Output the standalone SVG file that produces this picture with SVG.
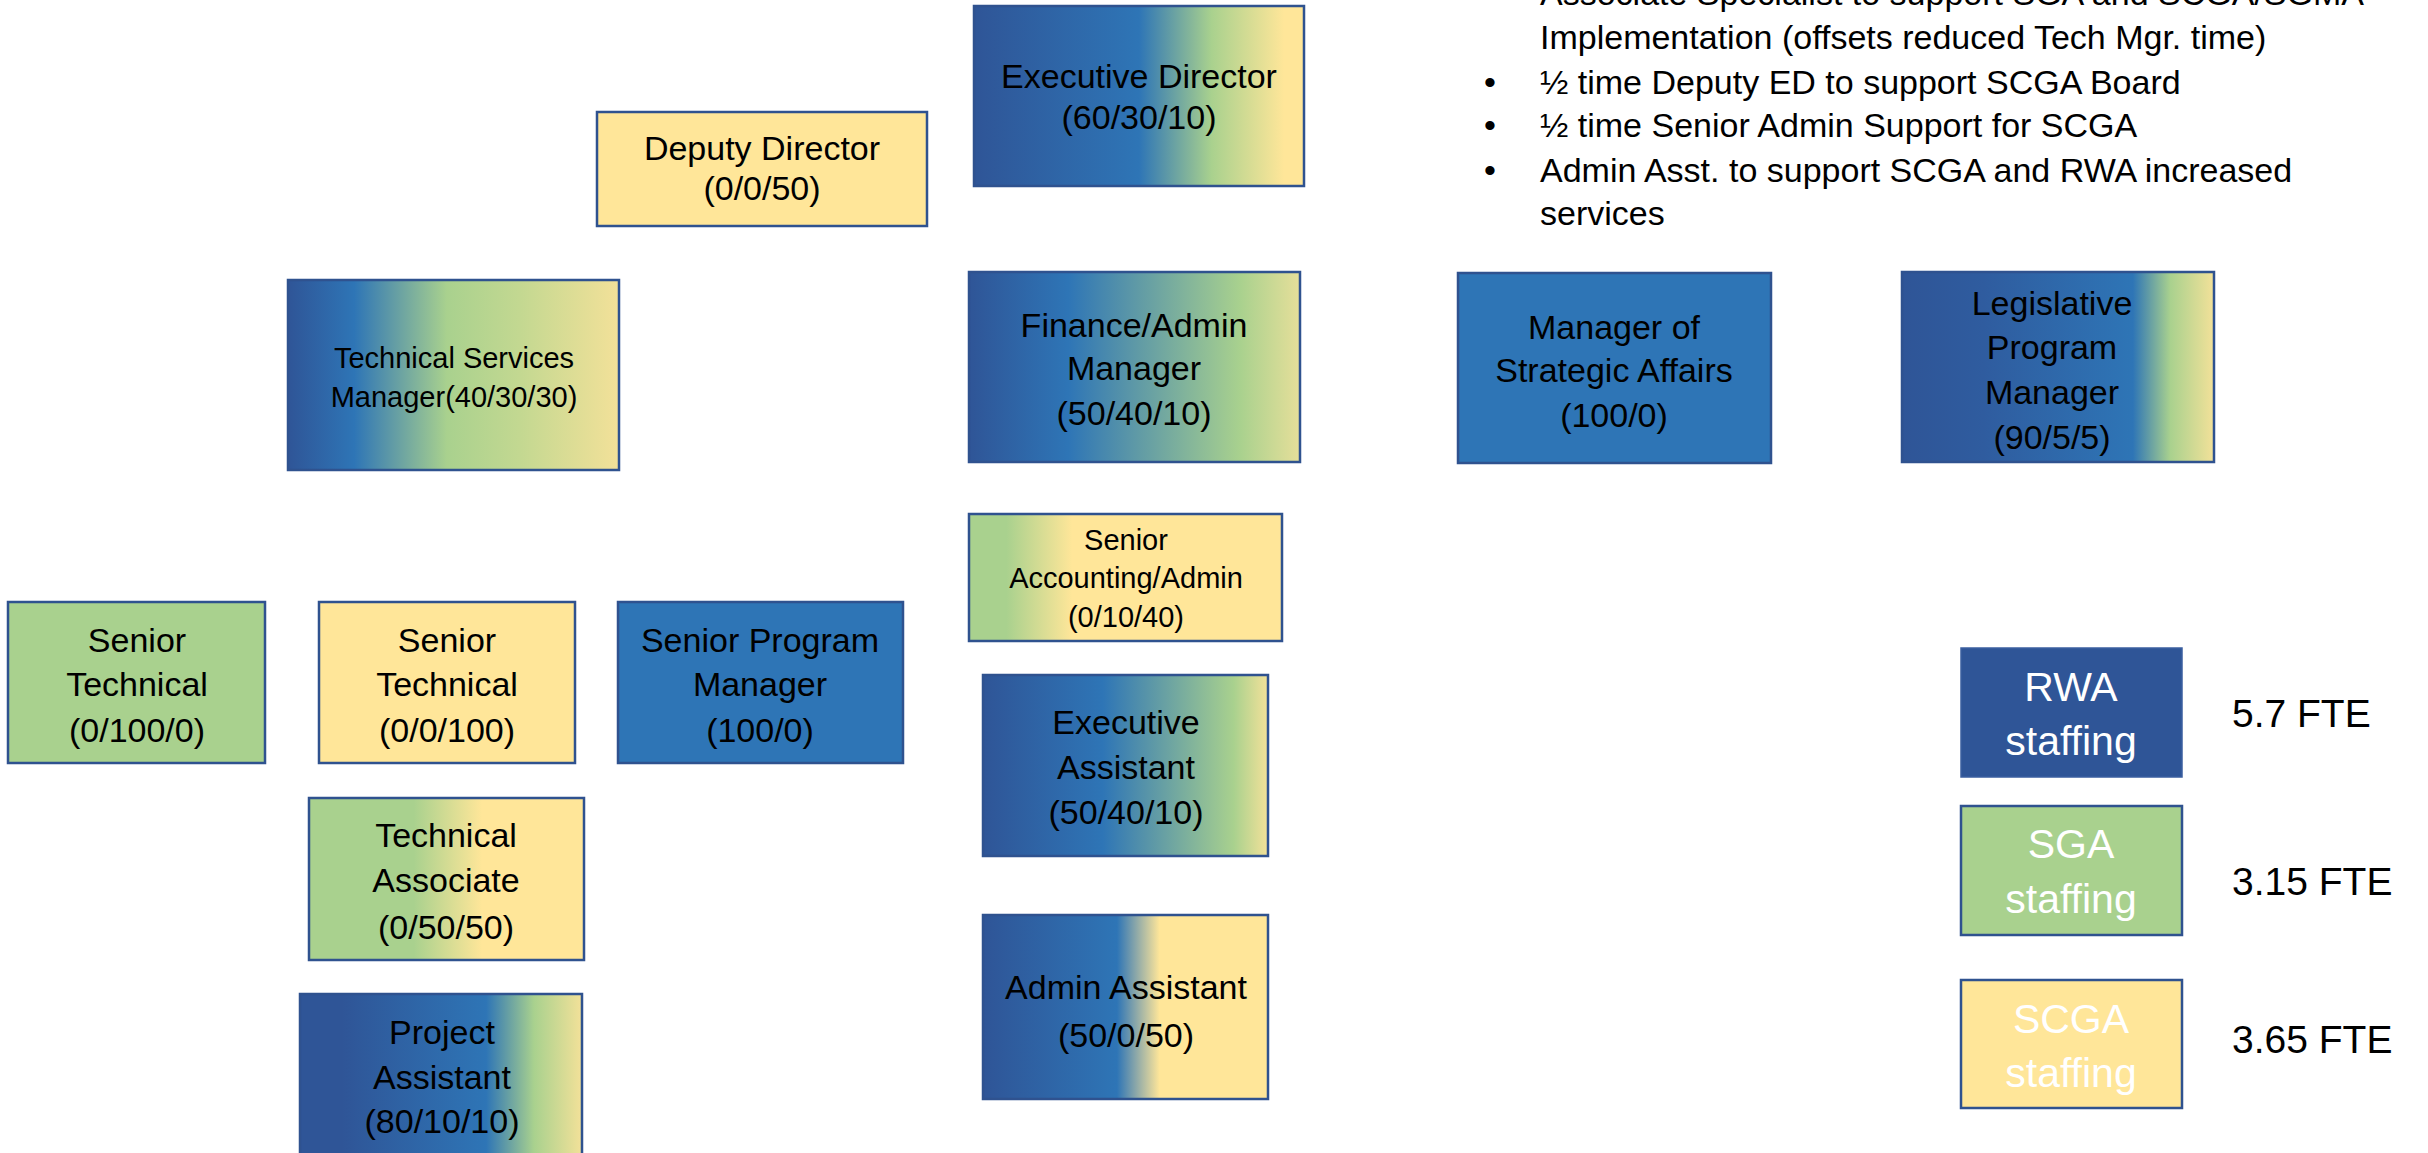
<svg xmlns="http://www.w3.org/2000/svg" width="2428" height="1153" viewBox="0 0 2428 1153">
<defs>
<style>
.box{stroke:#2F528F;stroke-width:2.5}
.t{font-family:"Liberation Sans",Arial,sans-serif;font-size:34px;fill:#000;text-anchor:middle}
.s{font-size:29px}
.b{font-family:"Liberation Sans",Arial,sans-serif;font-size:34px;fill:#000}
.lg{font-family:"Liberation Sans",Arial,sans-serif;font-size:41px;fill:#fff;text-anchor:middle}
.fte{font-family:"Liberation Sans",Arial,sans-serif;font-size:39px;fill:#000}
</style>
<linearGradient id="gED" x1="0" y1="0" x2="1" y2="0">
<stop offset="0" stop-color="#2F5597"/><stop offset="0.5" stop-color="#2E75B6"/><stop offset="0.72" stop-color="#A9D18E"/><stop offset="0.94" stop-color="#FFE699"/><stop offset="1" stop-color="#FFE699"/>
</linearGradient>
<linearGradient id="gTSM" x1="0" y1="0" x2="1" y2="0">
<stop offset="0" stop-color="#2F5597"/><stop offset="0.2" stop-color="#2E75B6"/><stop offset="0.48" stop-color="#A9D18E"/><stop offset="0.7" stop-color="#C3D891"/><stop offset="1" stop-color="#F3E199"/>
</linearGradient>
<linearGradient id="gFIN" x1="0" y1="0" x2="1" y2="0">
<stop offset="0" stop-color="#2F5597"/><stop offset="0.3" stop-color="#2E75B6"/><stop offset="0.82" stop-color="#A9D18E"/><stop offset="1" stop-color="#E6DF9A"/>
</linearGradient>
<linearGradient id="gLEG" x1="0" y1="0" x2="1" y2="0">
<stop offset="0" stop-color="#2F5597"/><stop offset="0.26" stop-color="#2F5C9F"/><stop offset="0.74" stop-color="#2E75B6"/><stop offset="0.86" stop-color="#A9D18E"/><stop offset="1" stop-color="#F3E199"/>
</linearGradient>
<linearGradient id="gSAA" x1="0" y1="0" x2="1" y2="0">
<stop offset="0" stop-color="#A9D18E"/><stop offset="0.12" stop-color="#A9D18E"/><stop offset="0.33" stop-color="#FFE699"/><stop offset="1" stop-color="#FFE699"/>
</linearGradient>
<linearGradient id="gEA" x1="0" y1="0" x2="1" y2="0">
<stop offset="0" stop-color="#2F5597"/><stop offset="0.42" stop-color="#2E75B6"/><stop offset="0.88" stop-color="#A9D18E"/><stop offset="1" stop-color="#F3E199"/>
</linearGradient>
<linearGradient id="gTA" x1="0" y1="0" x2="1" y2="0">
<stop offset="0" stop-color="#A9D18E"/><stop offset="0.38" stop-color="#A9D18E"/><stop offset="0.63" stop-color="#FFE699"/><stop offset="1" stop-color="#FFE699"/>
</linearGradient>
<linearGradient id="gPA" x1="0" y1="0" x2="1" y2="0">
<stop offset="0" stop-color="#2F5597"/><stop offset="0.15" stop-color="#2F5597"/><stop offset="0.66" stop-color="#2E75B6"/><stop offset="0.83" stop-color="#A9D18E"/><stop offset="1" stop-color="#F3E199"/>
</linearGradient>
<linearGradient id="gAA" x1="0" y1="0" x2="1" y2="0">
<stop offset="0" stop-color="#2F5597"/><stop offset="0.47" stop-color="#2E75B6"/><stop offset="0.62" stop-color="#FFE699"/><stop offset="1" stop-color="#FFE699"/>
</linearGradient>
</defs>
<rect width="2428" height="1153" fill="#fff"/>

<g id="connectors"/>

<g id="notes">
<text class="b" x="1484" y="5">•</text>
<text class="b" x="1540" y="5">Associate Specialist to support SGA and SCGA/SGMA</text>
<text class="b" x="1540" y="49">Implementation (offsets reduced Tech Mgr. time)</text>
<text class="b" x="1484" y="94">•</text>
<text class="b" x="1540" y="94">½ time Deputy ED to support SCGA Board</text>
<text class="b" x="1484" y="137">•</text>
<text class="b" x="1540" y="137">½ time Senior Admin Support for SCGA</text>
<text class="b" x="1484" y="182">•</text>
<text class="b" x="1540" y="182">Admin Asst. to support SCGA and RWA increased</text>
<text class="b" x="1540" y="225">services</text>
</g>

<g id="executive-director">
<rect class="box" x="974" y="6" width="330" height="180" fill="url(#gED)"/>
<text class="t" x="1139" y="88">Executive Director</text>
<text class="t" x="1139" y="129">(60/30/10)</text>
</g>

<g id="deputy-director">
<rect class="box" x="597" y="112" width="330" height="114" fill="#FFE699"/>
<text class="t" x="762" y="160">Deputy Director</text>
<text class="t" x="762" y="200">(0/0/50)</text>
</g>

<g id="technical-services-manager">
<rect class="box" x="288" y="280" width="331" height="190" fill="url(#gTSM)"/>
<text class="t s" x="454" y="368">Technical Services</text>
<text class="t s" x="454" y="407">Manager(40/30/30)</text>
</g>

<g id="finance-admin-manager">
<rect class="box" x="969" y="272" width="331" height="190" fill="url(#gFIN)"/>
<text class="t" x="1134" y="337">Finance/Admin</text>
<text class="t" x="1134" y="380">Manager</text>
<text class="t" x="1134" y="425">(50/40/10)</text>
</g>

<g id="manager-strategic-affairs">
<rect class="box" x="1458" y="273" width="313" height="190" fill="#2E75B6"/>
<text class="t" x="1614" y="339">Manager of</text>
<text class="t" x="1614" y="382">Strategic Affairs</text>
<text class="t" x="1614" y="427">(100/0)</text>
</g>

<g id="legislative-program-manager">
<rect class="box" x="1902" y="272" width="312" height="190" fill="url(#gLEG)"/>
<text class="t" x="2052" y="315">Legislative</text>
<text class="t" x="2052" y="359">Program</text>
<text class="t" x="2052" y="404">Manager</text>
<text class="t" x="2052" y="449">(90/5/5)</text>
</g>

<g id="senior-accounting-admin">
<rect class="box" x="969" y="514" width="313" height="127" fill="url(#gSAA)"/>
<text class="t s" x="1126" y="550">Senior</text>
<text class="t s" x="1126" y="588">Accounting/Admin</text>
<text class="t s" x="1126" y="627">(0/10/40)</text>
</g>

<g id="senior-technical-sga">
<rect class="box" x="8" y="602" width="257" height="161" fill="#A9D18E"/>
<text class="t" x="137" y="652">Senior</text>
<text class="t" x="137" y="696">Technical</text>
<text class="t" x="137" y="742">(0/100/0)</text>
</g>

<g id="senior-technical-scga">
<rect class="box" x="319" y="602" width="256" height="161" fill="#FFE699"/>
<text class="t" x="447" y="652">Senior</text>
<text class="t" x="447" y="696">Technical</text>
<text class="t" x="447" y="742">(0/0/100)</text>
</g>

<g id="senior-program-manager">
<rect class="box" x="618" y="602" width="285" height="161" fill="#2E75B6"/>
<text class="t" x="760" y="652">Senior Program</text>
<text class="t" x="760" y="696">Manager</text>
<text class="t" x="760" y="742">(100/0)</text>
</g>

<g id="executive-assistant">
<rect class="box" x="983" y="675" width="285" height="181" fill="url(#gEA)"/>
<text class="t" x="1126" y="734">Executive</text>
<text class="t" x="1126" y="779">Assistant</text>
<text class="t" x="1126" y="824">(50/40/10)</text>
</g>

<g id="technical-associate">
<rect class="box" x="309" y="798" width="275" height="162" fill="url(#gTA)"/>
<text class="t" x="446" y="847">Technical</text>
<text class="t" x="446" y="892">Associate</text>
<text class="t" x="446" y="939">(0/50/50)</text>
</g>

<g id="admin-assistant">
<rect class="box" x="983" y="915" width="285" height="184" fill="url(#gAA)"/>
<text class="t" x="1126" y="999">Admin Assistant</text>
<text class="t" x="1126" y="1047">(50/0/50)</text>
</g>

<g id="project-assistant">
<rect class="box" x="300" y="994" width="282" height="175" fill="url(#gPA)"/>
<text class="t" x="442" y="1044">Project</text>
<text class="t" x="442" y="1089">Assistant</text>
<text class="t" x="442" y="1133">(80/10/10)</text>
</g>

<g id="legend-rwa">
<rect x="1961" y="648" width="221" height="129" fill="#2F5597" stroke="#3B5FA0" stroke-width="1.5"/>
<text class="lg" x="2071" y="701">RWA</text>
<text class="lg" x="2071" y="755">staffing</text>
<text class="fte" x="2232" y="727">5.7 FTE</text>
</g>

<g id="legend-sga">
<rect class="box" x="1961" y="806" width="221" height="129" fill="#A9D18E"/>
<text class="lg" x="2071" y="858">SGA</text>
<text class="lg" x="2071" y="913">staffing</text>
<text class="fte" x="2232" y="895">3.15 FTE</text>
</g>

<g id="legend-scga">
<rect class="box" x="1961" y="980" width="221" height="128" fill="#FFE699"/>
<text class="lg" x="2071" y="1033">SCGA</text>
<text class="lg" x="2071" y="1087">staffing</text>
<text class="fte" x="2232" y="1053">3.65 FTE</text>
</g>
</svg>
